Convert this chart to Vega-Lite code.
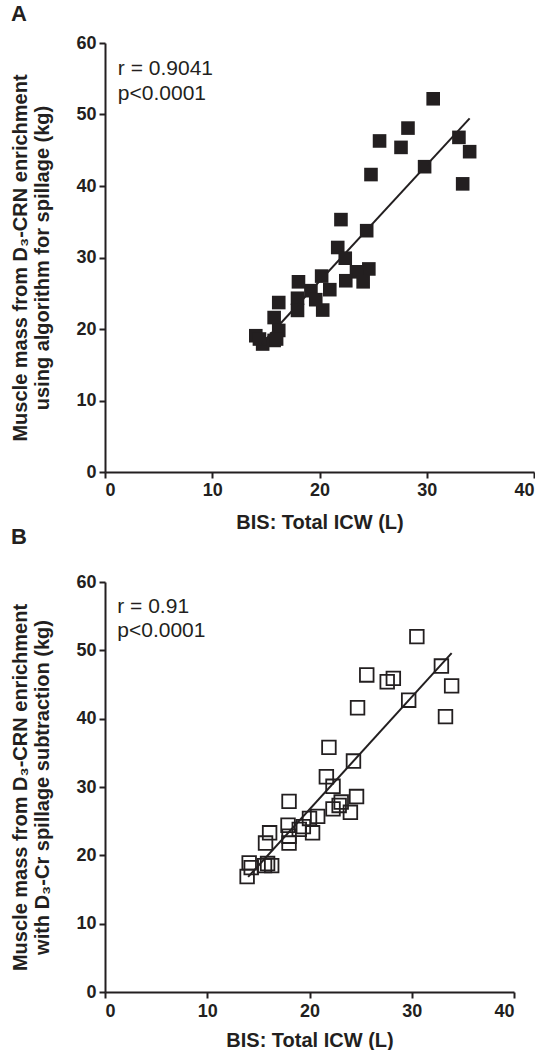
{
  "$schema": "https://vega.github.io/schema/vega-lite/v6.json",
  "background": "white",
  "padding": {"left": 10, "top": 3, "right": 0, "bottom": 0},
  "spacing": -6,
  "config": {
    "view": {"stroke": null},
    "font": "Liberation Sans",
    "axis": {
      "grid": false,
      "domainColor": "#231f20",
      "domainWidth": 2,
      "tickColor": "#231f20",
      "tickWidth": 2,
      "tickSize": 6,
      "labelFont": "Liberation Sans",
      "labelFontWeight": "bold",
      "labelFontSize": 18,
      "labelColor": "#231f20",
      "labelPadding": 3,
      "titleFont": "Liberation Sans",
      "titleFontWeight": "bold",
      "titleFontSize": 20,
      "titleColor": "#231f20"
    },
    "title": {"font": "Liberation Sans", "fontSize": 22, "fontWeight": "bold", "color": "#231f20", "anchor": "start", "frame": "bounds", "offset": 8}
  },
  "datasets": {
    "panelA": [
      {"icw": 30.6, "mass": 52.2}, {"icw": 28.25, "mass": 48.1}, {"icw": 25.6, "mass": 46.3},
      {"icw": 27.6, "mass": 45.4}, {"icw": 33.0, "mass": 46.8}, {"icw": 34.0, "mass": 44.8},
      {"icw": 29.8, "mass": 42.7}, {"icw": 24.8, "mass": 41.6}, {"icw": 33.35, "mass": 40.3},
      {"icw": 22.0, "mass": 35.3}, {"icw": 24.4, "mass": 33.75}, {"icw": 21.7, "mass": 31.4},
      {"icw": 22.4, "mass": 29.9}, {"icw": 24.6, "mass": 28.4}, {"icw": 23.45, "mass": 28.0},
      {"icw": 22.45, "mass": 26.75}, {"icw": 24.07, "mass": 26.6}, {"icw": 20.2, "mass": 27.4},
      {"icw": 20.96, "mass": 25.5}, {"icw": 20.3, "mass": 22.65}, {"icw": 18.04, "mass": 26.6},
      {"icw": 19.2, "mass": 25.36}, {"icw": 19.65, "mass": 24.1}, {"icw": 17.95, "mass": 24.3},
      {"icw": 17.95, "mass": 22.6}, {"icw": 16.2, "mass": 23.7}, {"icw": 15.77, "mass": 21.6},
      {"icw": 16.2, "mass": 19.8}, {"icw": 15.77, "mass": 18.4}, {"icw": 14.06, "mass": 19.06},
      {"icw": 14.7, "mass": 17.9}, {"icw": 16.0, "mass": 18.6}, {"icw": 14.4, "mass": 18.6}
    ],
    "panelB": [
      {"icw": 30.5, "mass": 52.0}, {"icw": 32.9, "mass": 47.7}, {"icw": 25.6, "mass": 46.4},
      {"icw": 27.6, "mass": 45.4}, {"icw": 28.2, "mass": 45.9}, {"icw": 33.9, "mass": 44.8},
      {"icw": 29.7, "mass": 42.7}, {"icw": 24.7, "mass": 41.6}, {"icw": 33.3, "mass": 40.3},
      {"icw": 21.9, "mass": 35.8}, {"icw": 24.3, "mass": 33.8}, {"icw": 21.65, "mass": 31.5},
      {"icw": 22.3, "mass": 30.1}, {"icw": 24.6, "mass": 28.6}, {"icw": 23.1, "mass": 27.8},
      {"icw": 22.9, "mass": 27.3}, {"icw": 22.3, "mass": 26.8}, {"icw": 24.0, "mass": 26.3},
      {"icw": 20.8, "mass": 25.7}, {"icw": 20.0, "mass": 25.4}, {"icw": 20.3, "mass": 23.3},
      {"icw": 19.4, "mass": 24.2}, {"icw": 18.0, "mass": 27.9}, {"icw": 17.9, "mass": 24.4},
      {"icw": 18.0, "mass": 22.8}, {"icw": 18.0, "mass": 21.8}, {"icw": 19.0, "mass": 23.8},
      {"icw": 16.1, "mass": 23.3}, {"icw": 15.7, "mass": 21.8}, {"icw": 14.1, "mass": 18.9},
      {"icw": 14.3, "mass": 18.2}, {"icw": 15.6, "mass": 18.5}, {"icw": 16.3, "mass": 18.5},
      {"icw": 15.9, "mass": 18.8}, {"icw": 13.9, "mass": 16.9}
    ],
    "fitA": [{"icw": 14.6, "mass": 17.9}, {"icw": 34.0, "mass": 49.46}],
    "fitB": [{"icw": 14.0, "mass": 16.85}, {"icw": 33.9, "mass": 49.6}],
    "statsA": [{"icw": 1.2, "mass": 55.5, "label": "r = 0.9041"}, {"icw": 1.2, "mass": 52.0, "label": "p<0.0001"}],
    "statsB": [{"icw": 1.2, "mass": 55.5, "label": "r = 0.91"}, {"icw": 1.2, "mass": 52.0, "label": "p<0.0001"}]
  },
  "vconcat": [
    {
      "title": "A",
      "width": 429,
      "height": 429,
      "encoding": {
        "x": {"field": "icw", "type": "quantitative", "scale": {"domain": [0, 40], "nice": false, "zero": true}, "axis": {"values": [0, 10, 20, 30, 40], "title": "BIS: Total ICW (L)", "titlePadding": 13}},
        "y": {"field": "mass", "type": "quantitative", "scale": {"domain": [0, 60], "nice": false}, "axis": {"values": [0, 10, 20, 30, 40, 50, 60], "title": ["Muscle mass from D₃-CRN enrichment", "using algorithm for spillage (kg)"], "titleLineHeight": 22, "titlePadding": 23}}
      },
      "layer": [
        {"data": {"name": "panelA"}, "mark": {"type": "point", "shape": "square", "filled": true, "size": 185, "color": "#231f20", "opacity": 1}},
        {"data": {"name": "fitA"}, "mark": {"type": "line", "color": "#231f20", "strokeWidth": 2}},
        {"data": {"name": "statsA"}, "mark": {"type": "text", "align": "left", "baseline": "alphabetic", "fontSize": 21, "font": "Liberation Sans", "color": "#231f20"}, "encoding": {"text": {"field": "label"}}}
      ]
    },
    {
      "title": {"text": "B", "offset": 24},
      "width": 409,
      "height": 410,
      "encoding": {
        "x": {"field": "icw", "type": "quantitative", "scale": {"domain": [0, 40], "nice": false, "zero": true}, "axis": {"values": [0, 10, 20, 30, 40], "title": "BIS: Total ICW (L)", "labelPadding": 4, "titlePadding": 10}},
        "y": {"field": "mass", "type": "quantitative", "scale": {"domain": [0, 60], "nice": false}, "axis": {"values": [0, 10, 20, 30, 40, 50, 60], "title": ["Muscle mass from D₃-CRN enrichment", "with D₃-Cr spillage subtraction (kg)"], "titleLineHeight": 22, "titlePadding": 23}}
      },
      "layer": [
        {"data": {"name": "panelB"}, "mark": {"type": "point", "shape": "square", "filled": false, "size": 185, "color": "#231f20", "strokeWidth": 1.8, "opacity": 1}},
        {"data": {"name": "fitB"}, "mark": {"type": "line", "color": "#231f20", "strokeWidth": 2}},
        {"data": {"name": "statsB"}, "mark": {"type": "text", "align": "left", "baseline": "alphabetic", "fontSize": 21, "font": "Liberation Sans", "color": "#231f20"}, "encoding": {"text": {"field": "label"}}}
      ]
    }
  ]
}
